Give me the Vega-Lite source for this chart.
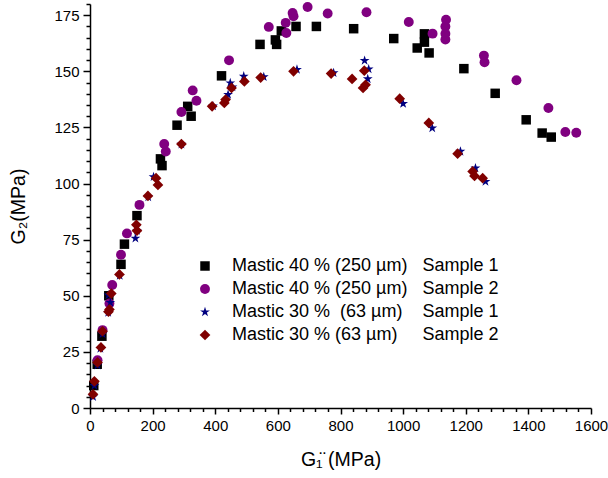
{
  "$schema": "https://vega.github.io/schema/vega-lite/v6.json",
  "width": 501,
  "height": 404,
  "autosize": "none",
  "padding": {"left": 90, "top": 4, "right": 17, "bottom": 70},
  "background": "white",
  "config": {
    "view": {"stroke": null},
    "font": "Liberation Sans",
    "axis": {"grid": false, "domainColor": "black", "tickColor": "black", "labelColor": "black", "titleColor": "black", "labelFont": "Liberation Sans", "titleFont": "Liberation Sans", "titleFontWeight": "normal", "labelFontSize": 15, "titleFontSize": 19.5}
  },
  "data": {"values": [
    {"series": "Mastic 40 % (250 µm) Sample 1", "g1": 12, "g2": 10},
    {"series": "Mastic 40 % (250 µm) Sample 1", "g1": 23, "g2": 19.5},
    {"series": "Mastic 40 % (250 µm) Sample 1", "g1": 38, "g2": 32},
    {"series": "Mastic 40 % (250 µm) Sample 1", "g1": 60, "g2": 50},
    {"series": "Mastic 40 % (250 µm) Sample 1", "g1": 99, "g2": 64},
    {"series": "Mastic 40 % (250 µm) Sample 1", "g1": 110, "g2": 73},
    {"series": "Mastic 40 % (250 µm) Sample 1", "g1": 150, "g2": 85.7},
    {"series": "Mastic 40 % (250 µm) Sample 1", "g1": 225, "g2": 111},
    {"series": "Mastic 40 % (250 µm) Sample 1", "g1": 230, "g2": 108},
    {"series": "Mastic 40 % (250 µm) Sample 1", "g1": 278, "g2": 126},
    {"series": "Mastic 40 % (250 µm) Sample 1", "g1": 312, "g2": 134.4},
    {"series": "Mastic 40 % (250 µm) Sample 1", "g1": 323, "g2": 130},
    {"series": "Mastic 40 % (250 µm) Sample 1", "g1": 420, "g2": 148},
    {"series": "Mastic 40 % (250 µm) Sample 1", "g1": 543, "g2": 162},
    {"series": "Mastic 40 % (250 µm) Sample 1", "g1": 592, "g2": 164},
    {"series": "Mastic 40 % (250 µm) Sample 1", "g1": 596, "g2": 162},
    {"series": "Mastic 40 % (250 µm) Sample 1", "g1": 611, "g2": 168},
    {"series": "Mastic 40 % (250 µm) Sample 1", "g1": 658, "g2": 170},
    {"series": "Mastic 40 % (250 µm) Sample 1", "g1": 723, "g2": 170},
    {"series": "Mastic 40 % (250 µm) Sample 1", "g1": 842, "g2": 169},
    {"series": "Mastic 40 % (250 µm) Sample 1", "g1": 970, "g2": 164.6},
    {"series": "Mastic 40 % (250 µm) Sample 1", "g1": 1045, "g2": 160.4},
    {"series": "Mastic 40 % (250 µm) Sample 1", "g1": 1068, "g2": 166.7},
    {"series": "Mastic 40 % (250 µm) Sample 1", "g1": 1068, "g2": 163},
    {"series": "Mastic 40 % (250 µm) Sample 1", "g1": 1083, "g2": 158.2},
    {"series": "Mastic 40 % (250 µm) Sample 1", "g1": 1194, "g2": 151.2},
    {"series": "Mastic 40 % (250 µm) Sample 1", "g1": 1294, "g2": 140.2},
    {"series": "Mastic 40 % (250 µm) Sample 1", "g1": 1393, "g2": 128.4},
    {"series": "Mastic 40 % (250 µm) Sample 1", "g1": 1444, "g2": 122.5},
    {"series": "Mastic 40 % (250 µm) Sample 1", "g1": 1473, "g2": 120.7},
    {"series": "Mastic 40 % (250 µm) Sample 2", "g1": 24, "g2": 21.3},
    {"series": "Mastic 40 % (250 µm) Sample 2", "g1": 40, "g2": 34.7},
    {"series": "Mastic 40 % (250 µm) Sample 2", "g1": 62, "g2": 46.6},
    {"series": "Mastic 40 % (250 µm) Sample 2", "g1": 71, "g2": 54.8},
    {"series": "Mastic 40 % (250 µm) Sample 2", "g1": 99, "g2": 68.3},
    {"series": "Mastic 40 % (250 µm) Sample 2", "g1": 118, "g2": 77.8},
    {"series": "Mastic 40 % (250 µm) Sample 2", "g1": 158, "g2": 90.5},
    {"series": "Mastic 40 % (250 µm) Sample 2", "g1": 237, "g2": 117.6},
    {"series": "Mastic 40 % (250 µm) Sample 2", "g1": 242, "g2": 114.3},
    {"series": "Mastic 40 % (250 µm) Sample 2", "g1": 292, "g2": 131.9},
    {"series": "Mastic 40 % (250 µm) Sample 2", "g1": 328, "g2": 141.5},
    {"series": "Mastic 40 % (250 µm) Sample 2", "g1": 340, "g2": 136.9},
    {"series": "Mastic 40 % (250 µm) Sample 2", "g1": 444, "g2": 154.9},
    {"series": "Mastic 40 % (250 µm) Sample 2", "g1": 571, "g2": 169.8},
    {"series": "Mastic 40 % (250 µm) Sample 2", "g1": 625, "g2": 171.6},
    {"series": "Mastic 40 % (250 µm) Sample 2", "g1": 627, "g2": 167.1},
    {"series": "Mastic 40 % (250 µm) Sample 2", "g1": 647, "g2": 176},
    {"series": "Mastic 40 % (250 µm) Sample 2", "g1": 650, "g2": 174.5},
    {"series": "Mastic 40 % (250 µm) Sample 2", "g1": 695, "g2": 178.7},
    {"series": "Mastic 40 % (250 µm) Sample 2", "g1": 759, "g2": 175.8},
    {"series": "Mastic 40 % (250 µm) Sample 2", "g1": 883, "g2": 176.3},
    {"series": "Mastic 40 % (250 µm) Sample 2", "g1": 1018, "g2": 172},
    {"series": "Mastic 40 % (250 µm) Sample 2", "g1": 1094, "g2": 166.8},
    {"series": "Mastic 40 % (250 µm) Sample 2", "g1": 1137, "g2": 173},
    {"series": "Mastic 40 % (250 µm) Sample 2", "g1": 1135, "g2": 170},
    {"series": "Mastic 40 % (250 µm) Sample 2", "g1": 1135, "g2": 166.7},
    {"series": "Mastic 40 % (250 µm) Sample 2", "g1": 1135, "g2": 164.2},
    {"series": "Mastic 40 % (250 µm) Sample 2", "g1": 1258, "g2": 157},
    {"series": "Mastic 40 % (250 µm) Sample 2", "g1": 1260, "g2": 154},
    {"series": "Mastic 40 % (250 µm) Sample 2", "g1": 1362, "g2": 146},
    {"series": "Mastic 40 % (250 µm) Sample 2", "g1": 1464, "g2": 133.7},
    {"series": "Mastic 40 % (250 µm) Sample 2", "g1": 1518, "g2": 123},
    {"series": "Mastic 40 % (250 µm) Sample 2", "g1": 1553, "g2": 122.6},
    {"series": "Mastic 30 % (63 µm) Sample 1", "g1": 10, "g2": 5},
    {"series": "Mastic 30 % (63 µm) Sample 1", "g1": 14, "g2": 10},
    {"series": "Mastic 30 % (63 µm) Sample 1", "g1": 24, "g2": 19},
    {"series": "Mastic 30 % (63 µm) Sample 1", "g1": 33, "g2": 26.5},
    {"series": "Mastic 30 % (63 µm) Sample 1", "g1": 40, "g2": 33},
    {"series": "Mastic 30 % (63 µm) Sample 1", "g1": 58, "g2": 42.5},
    {"series": "Mastic 30 % (63 µm) Sample 1", "g1": 59, "g2": 50.3},
    {"series": "Mastic 30 % (63 µm) Sample 1", "g1": 65, "g2": 47},
    {"series": "Mastic 30 % (63 µm) Sample 1", "g1": 95, "g2": 59},
    {"series": "Mastic 30 % (63 µm) Sample 1", "g1": 145, "g2": 75.6},
    {"series": "Mastic 30 % (63 µm) Sample 1", "g1": 150, "g2": 79},
    {"series": "Mastic 30 % (63 µm) Sample 1", "g1": 186, "g2": 94},
    {"series": "Mastic 30 % (63 µm) Sample 1", "g1": 203, "g2": 103},
    {"series": "Mastic 30 % (63 µm) Sample 1", "g1": 292, "g2": 117.5},
    {"series": "Mastic 30 % (63 µm) Sample 1", "g1": 393, "g2": 134.5},
    {"series": "Mastic 30 % (63 µm) Sample 1", "g1": 441, "g2": 139.6},
    {"series": "Mastic 30 % (63 µm) Sample 1", "g1": 448, "g2": 144.8},
    {"series": "Mastic 30 % (63 µm) Sample 1", "g1": 455, "g2": 143},
    {"series": "Mastic 30 % (63 µm) Sample 1", "g1": 491, "g2": 147.8},
    {"series": "Mastic 30 % (63 µm) Sample 1", "g1": 555, "g2": 147.5},
    {"series": "Mastic 30 % (63 µm) Sample 1", "g1": 661, "g2": 150.8},
    {"series": "Mastic 30 % (63 µm) Sample 1", "g1": 778, "g2": 149.3},
    {"series": "Mastic 30 % (63 µm) Sample 1", "g1": 877, "g2": 154.8},
    {"series": "Mastic 30 % (63 µm) Sample 1", "g1": 890, "g2": 151},
    {"series": "Mastic 30 % (63 µm) Sample 1", "g1": 887, "g2": 146.6},
    {"series": "Mastic 30 % (63 µm) Sample 1", "g1": 1000, "g2": 135.6},
    {"series": "Mastic 30 % (63 µm) Sample 1", "g1": 1093, "g2": 124.7},
    {"series": "Mastic 30 % (63 µm) Sample 1", "g1": 1183, "g2": 114.3},
    {"series": "Mastic 30 % (63 µm) Sample 1", "g1": 1231, "g2": 106.9},
    {"series": "Mastic 30 % (63 µm) Sample 1", "g1": 1263, "g2": 100.9},
    {"series": "Mastic 30 % (63 µm) Sample 2", "g1": 9.6, "g2": 6.1},
    {"series": "Mastic 30 % (63 µm) Sample 2", "g1": 14, "g2": 11.9},
    {"series": "Mastic 30 % (63 µm) Sample 2", "g1": 24, "g2": 20.3},
    {"series": "Mastic 30 % (63 µm) Sample 2", "g1": 35, "g2": 27},
    {"series": "Mastic 30 % (63 µm) Sample 2", "g1": 40, "g2": 34.2},
    {"series": "Mastic 30 % (63 µm) Sample 2", "g1": 59, "g2": 42.9},
    {"series": "Mastic 30 % (63 µm) Sample 2", "g1": 62, "g2": 43.9},
    {"series": "Mastic 30 % (63 µm) Sample 2", "g1": 68, "g2": 51},
    {"series": "Mastic 30 % (63 µm) Sample 2", "g1": 94, "g2": 59.5},
    {"series": "Mastic 30 % (63 µm) Sample 2", "g1": 148, "g2": 81.6},
    {"series": "Mastic 30 % (63 µm) Sample 2", "g1": 150, "g2": 79},
    {"series": "Mastic 30 % (63 µm) Sample 2", "g1": 185, "g2": 94.5},
    {"series": "Mastic 30 % (63 µm) Sample 2", "g1": 211, "g2": 102.4},
    {"series": "Mastic 30 % (63 µm) Sample 2", "g1": 217, "g2": 99.4},
    {"series": "Mastic 30 % (63 µm) Sample 2", "g1": 292, "g2": 117.6},
    {"series": "Mastic 30 % (63 µm) Sample 2", "g1": 390, "g2": 134.4},
    {"series": "Mastic 30 % (63 µm) Sample 2", "g1": 429, "g2": 135.9},
    {"series": "Mastic 30 % (63 µm) Sample 2", "g1": 433, "g2": 137.4},
    {"series": "Mastic 30 % (63 µm) Sample 2", "g1": 452, "g2": 142.6},
    {"series": "Mastic 30 % (63 µm) Sample 2", "g1": 493, "g2": 145.5},
    {"series": "Mastic 30 % (63 µm) Sample 2", "g1": 545, "g2": 147.2},
    {"series": "Mastic 30 % (63 µm) Sample 2", "g1": 650, "g2": 150},
    {"series": "Mastic 30 % (63 µm) Sample 2", "g1": 770, "g2": 149},
    {"series": "Mastic 30 % (63 µm) Sample 2", "g1": 837, "g2": 146.6},
    {"series": "Mastic 30 % (63 µm) Sample 2", "g1": 876, "g2": 150.3},
    {"series": "Mastic 30 % (63 µm) Sample 2", "g1": 880, "g2": 144},
    {"series": "Mastic 30 % (63 µm) Sample 2", "g1": 872, "g2": 142.6},
    {"series": "Mastic 30 % (63 µm) Sample 2", "g1": 989, "g2": 137.8},
    {"series": "Mastic 30 % (63 µm) Sample 2", "g1": 1082, "g2": 127},
    {"series": "Mastic 30 % (63 µm) Sample 2", "g1": 1174, "g2": 113.3},
    {"series": "Mastic 30 % (63 µm) Sample 2", "g1": 1222, "g2": 105.4},
    {"series": "Mastic 30 % (63 µm) Sample 2", "g1": 1228, "g2": 103.4},
    {"series": "Mastic 30 % (63 µm) Sample 2", "g1": 1254, "g2": 102.4}
  ]},
  "mark": {"type": "point", "filled": true, "opacity": 1},
  "encoding": {
    "x": {"field": "g1", "type": "quantitative", "scale": {"domain": [0, 1600], "nice": false, "zero": false},
      "axis": {"orient": "bottom", "values": [0, 40, 80, 120, 160, 200, 240, 280, 320, 360, 400, 440, 480, 520, 560, 600, 640, 680, 720, 760, 800, 840, 880, 920, 960, 1000, 1040, 1080, 1120, 1160, 1200, 1240, 1280, 1320, 1360, 1400, 1440, 1480, 1520, 1560, 1600],
        "tickSize": {"condition": {"test": "datum.value % 200 === 0", "value": 6}, "value": 3.5},
        "labelExpr": "datum.value % 200 === 0 ? format(datum.value, 'd') : ''",
        "tickWidth": 1.5, "domainWidth": 1.5, "labelPadding": 4, "titlePadding": 17, "labelFlush": false, "labelOverlap": false, "title": "G\u2081\u0308 (MPa)"}},
    "y": {"field": "g2", "type": "quantitative", "scale": {"domain": [0, 180], "nice": false, "zero": false},
      "axis": {"orient": "left", "values": [0, 5, 10, 15, 20, 25, 30, 35, 40, 45, 50, 55, 60, 65, 70, 75, 80, 85, 90, 95, 100, 105, 110, 115, 120, 125, 130, 135, 140, 145, 150, 155, 160, 165, 170, 175, 180],
        "tickSize": {"condition": {"test": "datum.value % 25 === 0", "value": 7}, "value": 4},
        "labelExpr": "datum.value % 25 === 0 ? format(datum.value, 'd') : ''",
        "tickWidth": 1.5, "domainWidth": 1.5, "labelPadding": 4, "titlePadding": 25, "labelFlush": false, "labelOverlap": false, "title": "G\u2082(MPa)"}},
    "color": {"field": "series", "type": "nominal",
      "scale": {"domain": ["Mastic 40 % (250 µm) Sample 1", "Mastic 40 % (250 µm) Sample 2", "Mastic 30 % (63 µm) Sample 1", "Mastic 30 % (63 µm) Sample 2"], "range": ["#000000", "#800080", "#000080", "#800000"]},
      "legend": {"orient": "none", "legendX": 106, "legendY": 253, "title": null, "padding": 0, "labelFont": "Liberation Sans", "labelFontSize": 18, "labelColor": "black", "labelLimit": 400, "labelOffset": 18, "rowPadding": 5, "symbolSize": 60, "symbolStrokeWidth": 0,
        "labelExpr": "datum.label == 'Mastic 40 % (250 µm) Sample 1' ? 'Mastic 40 % (250 µm)\u00a0\u00a0\u00a0Sample 1' : datum.label == 'Mastic 40 % (250 µm) Sample 2' ? 'Mastic 40 % (250 µm)\u00a0\u00a0\u00a0Sample 2' : datum.label == 'Mastic 30 % (63 µm) Sample 1' ? 'Mastic 30 %\u00a0 (63 µm)\u00a0\u00a0\u00a0\u00a0Sample 1' : 'Mastic 30 % (63 µm)\u00a0\u00a0\u00a0\u00a0\u00a0Sample 2'"}},
    "shape": {"field": "series", "type": "nominal",
      "scale": {"domain": ["Mastic 40 % (250 µm) Sample 1", "Mastic 40 % (250 µm) Sample 2", "Mastic 30 % (63 µm) Sample 1", "Mastic 30 % (63 µm) Sample 2"], "range": ["square", "circle", "M0,-1L0.225,-0.309L0.951,-0.309L0.363,0.118L0.588,0.809L0,0.382L-0.588,0.809L-0.363,0.118L-0.951,-0.309L-0.225,-0.309Z", "diamond"]}},
    "size": {"field": "series", "type": "nominal", "legend": null,
      "scale": {"domain": ["Mastic 40 % (250 µm) Sample 1", "Mastic 40 % (250 µm) Sample 2", "Mastic 30 % (63 µm) Sample 1", "Mastic 30 % (63 µm) Sample 2"], "range": [90, 115, 150, 165]}}
  }
}
